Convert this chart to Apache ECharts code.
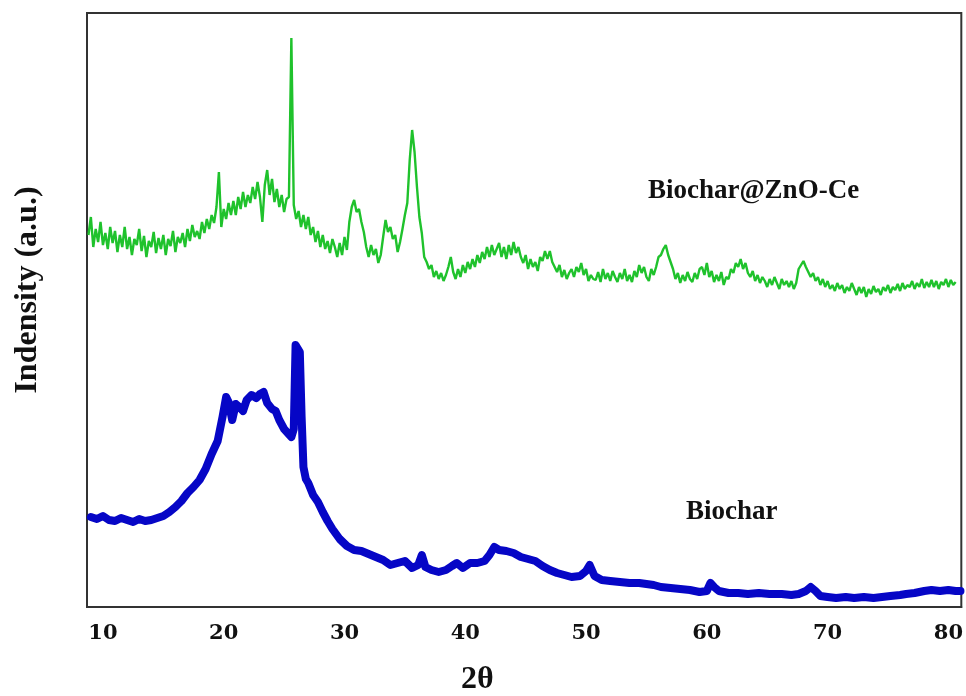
<!DOCTYPE html>
<html>
<head>
<meta charset="utf-8">
<script src="https://cdn.jsdelivr.net/npm/echarts@6/dist/echarts.min.js"></script>
<style>html,body{margin:0;padding:0;background:#fff}#c{width:966px;height:696px}</style>
</head>
<body>
<div id="c"></div>
<script>
// X tick labels (2θ, degrees)
const xTicks = [10, 20, 30, 40, 50, 60, 70, 80];

// Biochar@ZnO-Ce (green): measured on a 0.2° grid starting at 8.8°
const greenStart = 8.8;
const greenStep = 0.2;
const greenI = [
  372, 390, 360, 378, 365, 385, 362, 374, 358, 380,
  364, 376, 355, 372, 360, 380, 358, 370, 352, 368,
  362, 378, 356, 371, 350, 366, 360, 375, 354, 369,
  358, 372, 352, 368, 361, 376, 355, 370, 364, 374,
  360, 378, 366, 382, 370, 376, 368, 385, 374, 388,
  378, 392, 384, 400, 435, 380, 398, 388, 404, 392,
  406, 392, 410, 398, 415, 400, 412, 404, 420, 408,
  425, 410, 385, 422, 437, 412, 428, 405, 418, 400,
  412, 395, 408, 410, 569, 402, 388, 396, 380, 392,
  378, 390, 372, 380, 365, 376, 360, 372, 358, 366,
  354, 368, 360, 350, 364, 352, 370, 357, 385, 400,
  407, 395, 398, 385, 375, 360, 350, 362, 352, 358,
  344, 352, 370, 387, 375, 380, 368, 372, 355, 365,
  378, 392, 404, 447, 477, 455, 420, 390, 374, 350,
  345, 338, 342, 330, 336, 328, 334, 326, 332, 340,
  350, 335, 328, 338, 330, 342, 334, 345, 338, 348,
  340, 352, 344, 355, 348, 360, 350, 362, 352, 358,
  364, 350, 360, 348, 362, 352, 365, 354, 360, 350,
  344, 352, 338, 348, 340, 345, 336, 350, 346, 356,
  348, 356, 345, 340, 335, 342, 330, 337, 328, 334,
  338, 330, 340, 335, 344, 332, 338, 326, 332, 328,
  327, 335, 325, 338, 328, 334, 326, 336, 330, 325,
  334, 328, 338, 326, 332, 325, 336, 330, 342, 334,
  340, 330, 326, 338, 332, 340, 350, 352, 358, 362,
  352, 345, 338, 328, 334, 324, 332, 326, 335, 328,
  325, 334, 328, 338, 340, 332, 344, 330, 336, 325,
  332, 326, 335, 322, 330, 328, 338, 334, 344, 340,
  348, 338, 344, 334, 330, 336, 326, 332, 324, 330,
  326, 320, 328, 322, 330, 324, 318, 328, 322, 326,
  320, 326, 318, 324, 338, 342, 346, 340, 335, 330,
  334, 326, 330, 322, 328, 320, 326, 318, 322, 316,
  324, 318, 322, 314, 320, 316, 324, 318, 312, 320,
  314, 320, 310, 318, 313, 321, 315, 318, 312, 320,
  316, 322, 314, 320, 317, 323, 316, 324, 318, 322,
  320, 326, 318, 324, 320, 328, 319, 325, 320, 327,
  320, 326, 318, 325, 322, 328, 320, 327, 322, 325
];

// Biochar (blue): 2θ positions and intensities
const blueTheta = [
  9.0, 9.5, 10.0, 10.5, 11.0, 11.5, 12.0, 12.5, 13.0, 13.5, 14.0, 14.5, 15.0, 15.5, 16.0, 16.5,
  17.0, 17.5, 18.0, 18.5, 19.0, 19.5, 19.9, 20.2, 20.4, 20.7, 21.0, 21.3, 21.6, 21.9, 22.3, 22.7,
  23.0, 23.3, 23.6, 24.0, 24.3, 24.6, 25.0, 25.3, 25.6, 25.8, 25.95, 26.1, 26.3, 26.45, 26.6, 26.8,
  27.0, 27.4, 27.8, 28.2, 28.6, 29.0, 29.6, 30.2, 30.8, 31.4, 32.0, 32.6, 33.2, 33.8, 34.4, 35.0,
  35.6, 36.1, 36.4, 36.7, 37.2, 37.8, 38.4, 38.9, 39.3, 39.8, 40.4, 41.0, 41.6, 42.0, 42.4, 42.8,
  43.4, 44.0, 44.6, 45.2, 45.8, 46.4, 47.0, 47.6, 48.2, 48.8, 49.5, 50.0, 50.3, 50.7, 51.3, 52.0,
  52.8, 53.6, 54.4, 55.0, 55.6, 56.2, 57.0, 57.8, 58.6, 59.4, 60.0, 60.3, 60.6, 61.0, 61.8, 62.6,
  63.4, 64.3, 65.2, 66.2, 67.0, 67.6, 68.2, 68.6, 69.0, 69.4, 70.0, 70.7, 71.5, 72.2, 73.0, 73.8,
  74.5, 75.2, 76.0, 76.5, 77.2, 78.0, 78.6, 79.3, 80.0, 80.6, 81.0
];
const blueI = [
  90, 88, 91, 87, 86, 89, 87, 85, 88, 86, 87, 89, 91, 95, 100, 106,
  114, 120, 127, 138, 153, 166, 190, 210, 205, 187, 203, 200, 196, 207, 212, 209,
  213, 215, 204, 198, 196, 187, 178, 174, 170, 178, 262, 262, 255, 190, 140, 128,
  124, 112, 105, 95, 86, 78, 68, 61, 57, 56, 53, 50, 47, 42, 44, 46,
  39, 42, 52, 40, 37, 35, 37, 41, 44, 39, 44, 44, 46, 52, 60, 57,
  56, 54, 50, 48, 46, 41, 37, 34, 32, 30, 31, 36, 42, 31, 27, 26,
  25, 24, 24, 23, 22, 20, 19, 18, 17, 15, 16, 24, 20, 16, 14, 14,
  13, 14, 13, 13, 12, 13, 16, 20, 16, 11, 10, 9, 10, 9, 10, 9,
  10, 11, 12, 13, 14, 16, 17, 16, 17, 16, 16
];

const seriesNames = ['Biochar@ZnO-Ce', 'Biochar'];

const greenData = greenI.map((v, i) => [+(greenStart + i * greenStep).toFixed(2), v]);
const blueData = blueTheta.map((t, i) => [t, blueI[i]]);

const chart = echarts.init(document.getElementById('c'), null, {renderer: 'canvas'});
chart.setOption({
  animation: false,
  backgroundColor: '#ffffff',
  grid: {left: 87, right: 3, top: 13, bottom: 89, show: true, borderColor: '#333', borderWidth: 2},
  xAxis: {
    type: 'value', min: 8.68, max: 81.07,
    splitLine: {show: false},
    axisTick: {show: false},
    axisLine: {show: true, onZero: false, lineStyle: {color: '#333', width: 2}},
    axisLabel: {
      customValues: xTicks, margin: 16,
      fontFamily: 'DejaVu Serif', fontWeight: 'bold', fontSize: 21, color: '#111'
    }
  },
  yAxis: {
    type: 'value', min: 0, max: 594,
    splitLine: {show: false}, axisTick: {show: false}, axisLabel: {show: false},
    axisLine: {show: true, lineStyle: {color: '#333', width: 2}}
  },
  series: [
    {name: seriesNames[0], type: 'line', data: greenData, showSymbol: false,
     lineStyle: {color: '#1fc22c', width: 2.4}, itemStyle: {color: '#1fc22c'}, z: 3},
    {name: seriesNames[1], type: 'line', data: blueData, showSymbol: false,
     lineStyle: {color: '#0606c6', width: 8, join: 'round', cap: 'round'}, itemStyle: {color: '#0606c6'}, z: 2}
  ],
  graphic: [
    {type: 'text', left: 648, top: 178, style: {text: seriesNames[0], font: 'bold 27px "Liberation Serif"', fill: '#111'}},
    {type: 'text', left: 686, top: 499, style: {text: seriesNames[1], font: 'bold 27px "Liberation Serif"', fill: '#111'}},
    {type: 'text', left: 461, top: 664, style: {text: '2θ', font: 'bold 32px "Liberation Serif"', fill: '#111'}},
    {type: 'text', x: 28, y: 290, rotation: Math.PI / 2,
     style: {text: 'Indensity (a.u.)', font: 'bold 32px "Liberation Serif"', fill: '#111', align: 'center', verticalAlign: 'middle'}}
  ]
});
</script>
</body>
</html>
